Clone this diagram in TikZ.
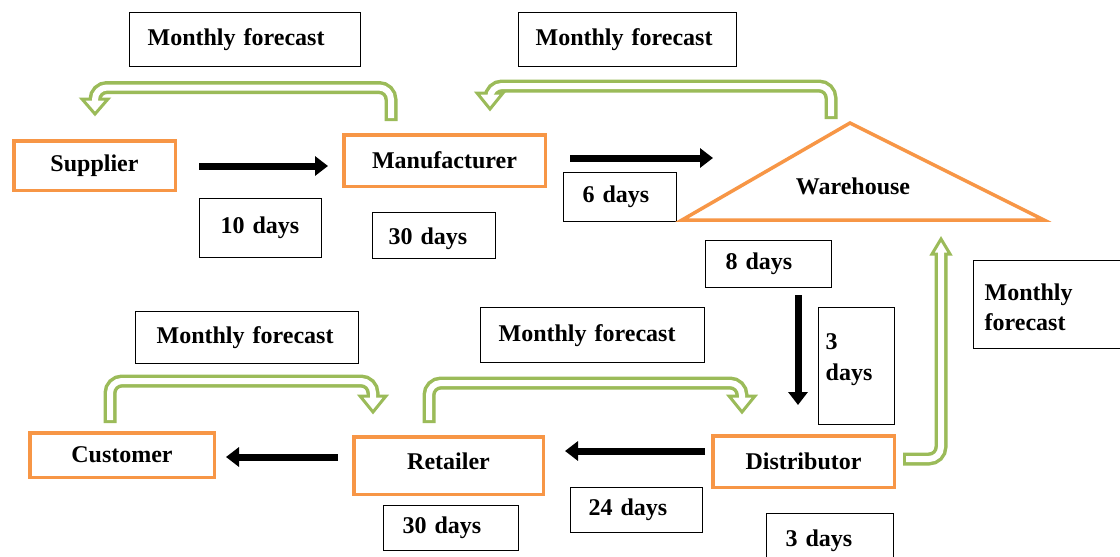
\documentclass[tikz,border=0pt]{standalone}
\usepackage{fontspec}
\setmainfont{Liberation Serif}
\usetikzlibrary{arrows.meta}
\definecolor{orng}{HTML}{F79646}
\definecolor{grn}{HTML}{9BBB59}
\begin{document}
\begin{tikzpicture}[x=1pt,y=-1pt,
  font=\fontsize{24}{31}\selectfont\bfseries,
  tbox/.style={draw, line width=1.3pt, anchor=north west, align=left, inner ysep=0pt},
  obox/.style={draw=orng, line width=3.5pt, inner sep=0pt},
  blk/.style={line width=7pt, -{Triangle[length=13pt,width=19pt]}},
  gout/.style={draw=grn, line width=13pt, rounded corners=12pt},
  gin/.style={draw=white, line width=6pt, rounded corners=12pt},
  ghead/.style={draw=grn, fill=white, line width=3pt, line join=miter}]
\useasboundingbox (0,0) rectangle (1120,557);
\fill[white] (0,0) rectangle (1120,557);

% text boxes
\node[tbox, inner xsep=18pt, text width=195pt, minimum height=54pt] (mf1) at (129,12) {Monthly forecast};
\node[tbox, inner xsep=17pt, text width=184pt, minimum height=54pt] (mf2) at (518,12) {Monthly forecast};
\node[tbox, inner xsep=21pt, text width=80pt, minimum height=59pt] (d10) at (199,198) {10 days};
\node[tbox, inner xsep=16pt, text width=91pt, minimum height=46pt, text height=21pt, text depth=3pt] (d30a) at (372,212) {30 days};
\node[tbox, inner xsep=19pt, text width=75pt, minimum height=49pt] (d6) at (563,172) {6 days};
\node[tbox, inner xsep=20pt, text width=86pt, minimum height=47pt] (d8) at (705,240) {8 days};
\node[tbox, inner xsep=7pt, text width=62pt, text height=42pt, text depth=75pt] (d3a) at (818,307) {3\\days};
\node[tbox, inner xsep=11pt, text width=128pt, text height=40pt, text depth=48pt] (mf5) at (973,260) {Monthly\\[-1pt]forecast};
\node[tbox, inner xsep=21pt, text width=181pt, minimum height=52pt] (mf3) at (135,311) {Monthly forecast};
\node[tbox, inner xsep=18pt, text width=188pt, minimum height=55pt] (mf4) at (480,307) {Monthly forecast};
\node[tbox, inner xsep=19pt, text width=97pt, minimum height=45pt] (d30b) at (383,505) {30 days};
\node[tbox, inner xsep=18pt, text width=96pt, minimum height=45pt] (d24) at (570,487) {24 days};
\node[tbox, inner xsep=19pt, text width=89pt, minimum height=54pt] (d3b) at (766,513) {3 days};

% orange boxes
\node[obox, minimum width=161.5pt, minimum height=49.5pt] (sup) at (94.5,165.5) {Supplier};
\node[obox, minimum width=201.5pt, minimum height=51.5pt] (man) at (444.5,160.5) {Manufacturer};
\node[obox, minimum width=184.5pt, minimum height=44.5pt] (cus) at (122,455) {Customer};
\node[obox, minimum width=189.5pt, minimum height=57.5pt, text height=19pt, text depth=12pt] (ret) at (448.5,465.5) {Retailer};
\node[obox, minimum width=181.5pt, minimum height=51.5pt] (dis) at (803.5,461.5) {Distributor};

% warehouse
\draw[draw=orng, line width=3.5pt, line join=miter] (682,220) -- (850,123) -- (1044,220) -- cycle;
\node (wh) at (853,186) {Warehouse};

% black arrows
\coordinate (smA) at (199,166); \coordinate (smB) at (328,166);
\coordinate (mwA) at (570,158); \coordinate (mwB) at (713,158);
\coordinate (wdA) at (798,295); \coordinate (wdB) at (798,405);
\coordinate (drA) at (705,451); \coordinate (drB) at (565,451);
\coordinate (rcA) at (338,457); \coordinate (rcB) at (226,457);
\draw[blk] (smA) -- (smB);
\draw[blk] (mwA) -- (mwB);
\draw[blk] (wdA) -- (wdB);
\draw[blk] (drA) -- (drB);
\draw[blk] (rcA) -- (rcB);

% green hollow arrows
% 1 manufacturer -> supplier
\draw[gout] (391,121) |- (95,87.5) -- (95,100);
\filldraw[ghead] (82,99) -- (108,99) -- (95,114) -- cycle;
\draw[gin] (391,118) |- (95,87.5) -- (95,102);
% 2 warehouse -> manufacturer
\draw[gout] (831,119) |- (490,86) -- (490,94);
\filldraw[ghead] (477,93) -- (503,93) -- (490,109) -- cycle;
\draw[gin] (831,116) |- (490,86) -- (490,96);
% 3 distributor -> warehouse
\draw[gout] (903,459) -| (941,253);
\filldraw[ghead] (932,254) -- (950,254) -- (941,239) -- cycle;
\draw[gin] (906,459) -| (941,251);
% 4 customer -> retailer
\draw[gout] (110,423) |- (373,381) -- (373,397);
\filldraw[ghead] (360,396) -- (386,396) -- (373,412) -- cycle;
\draw[gin] (110,420) |- (373,381) -- (373,399);
% 5 retailer -> distributor
\draw[gout] (429,423) |- (742,383) -- (742,397);
\filldraw[ghead] (729,396) -- (755,396) -- (742,412) -- cycle;
\draw[gin] (429,420) |- (742,383) -- (742,399);
\end{tikzpicture}
\end{document}
